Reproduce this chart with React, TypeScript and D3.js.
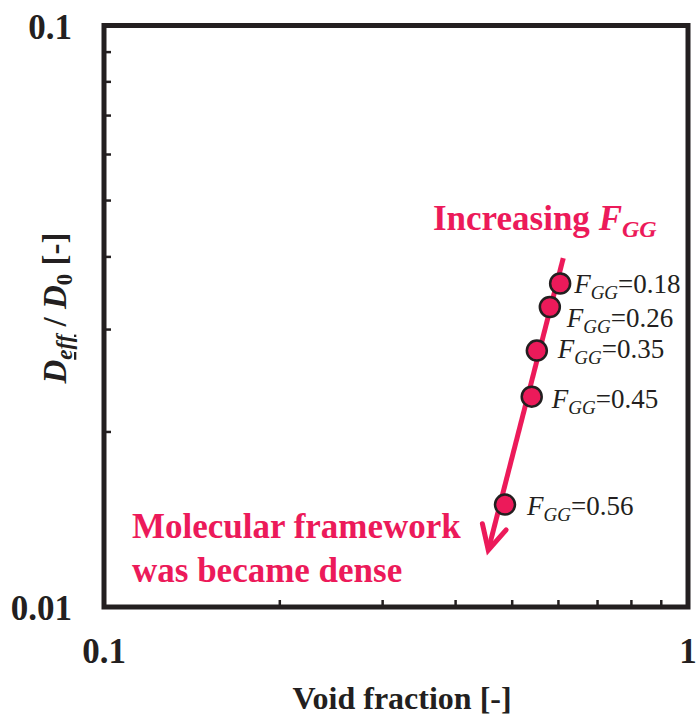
import React from "react";
import * as d3 from "d3";

// ---- data ----
const fggLabels = ["0.18", "0.26", "0.35", "0.45", "0.56"];
const voidFraction = [0.604, 0.58, 0.551, 0.54, 0.486];
const diffRatio = [0.036, 0.0328, 0.0276, 0.023, 0.015];
const trendX = [0.6115, 0.455];
const trendY = [0.0398, 0.01253];
const xTickLabels = ["0.1", "1"];
const yTickLabels = ["0.1", "0.01"];

// ---- layout ----
const W = 696;
const H = 718;
const left = 104;
const right = 688;
const top = 25.5;
const bottom = 607;
const labelDx = [14, 17, 21, 20, 22];
const labelDy = [9, 20, 7, 11, 10];

const PINK = "#EC1A5A";
const INK = "#231f20";
const SERIF = "'Liberation Serif', 'Times New Roman', serif";

export default function App() {
  const x = d3.scaleLog().domain([0.1, 1]).range([left, right]);
  const y = d3.scaleLog().domain([0.01, 0.1]).range([bottom, top]);

  const xMinor = d3.range(2, 10).map((d) => d / 10);
  const yMinor = d3.range(2, 10).map((d) => d / 100);

  const line = d3
    .line<number>()
    .x((_, i) => x(trendX[i]))
    .y((_, i) => y(trendY[i]));

  // arrowhead at end of trend line
  const tipX = x(trendX[1]);
  const tipY = y(trendY[1]);
  const backAng = Math.atan2(y(trendY[0]) - tipY, x(trendX[0]) - tipX);
  const armLen = 27;
  const armAng = (27 * Math.PI) / 180;
  const arm1 = [tipX + armLen * Math.cos(backAng - armAng), tipY + armLen * Math.sin(backAng - armAng)];
  const arm2 = [tipX + armLen * Math.cos(backAng + armAng), tipY + armLen * Math.sin(backAng + armAng)];

  return (
    <svg
      width={W}
      height={H}
      style={{ position: "absolute", left: 0, top: 0, background: "#fff" }}
      fontFamily={SERIF}
    >
      <rect x={0} y={0} width={W} height={H} fill="#fff" />

      {/* minor ticks */}
      {xMinor.map((v) => (
        <line key={"xt" + v} x1={x(v)} x2={x(v)} y1={bottom} y2={bottom - 7} stroke={INK} strokeWidth={2.5} />
      ))}
      {yMinor.map((v) => (
        <line key={"yt" + v} x1={left} x2={left + 7} y1={y(v)} y2={y(v)} stroke={INK} strokeWidth={2.5} />
      ))}

      {/* frame */}
      <rect x={left} y={top} width={right - left} height={bottom - top} fill="none" stroke={INK} strokeWidth={5} />

      {/* tick labels */}
      {yTickLabels.map((t) => (
        <text key={"yl" + t} x={72} y={y(+t) + 13} textAnchor="end" fontWeight="bold" fontSize={35} fill={INK}>
          {t}
        </text>
      ))}
      {xTickLabels.map((t) => (
        <text key={"xl" + t} x={Math.min(x(+t), 688)} y={663} textAnchor="middle" fontWeight="bold" fontSize={35} fill={INK}>
          {t}
        </text>
      ))}

      {/* axis titles */}
      <text x={402} y={709} textAnchor="middle" fontWeight="bold" fontSize={32} fill={INK}>
        Void fraction [-]
      </text>
      <text
        transform="translate(66,308) rotate(-90)"
        textAnchor="middle"
        fontWeight="bold"
        fontSize={33}
        fill={INK}
      >
        <tspan fontStyle="italic">D</tspan>
        <tspan fontStyle="italic" fontSize={23} dy={6} textDecoration="underline">eff</tspan>
        <tspan dy={-6}> / </tspan>
        <tspan fontStyle="italic">D</tspan>
        <tspan fontSize={23} dy={6}>0</tspan>
        <tspan dy={-6}> [-]</tspan>
      </text>

      {/* trend line with arrow */}
      <path d={line(trendX) || ""} fill="none" stroke={PINK} strokeWidth={5} />
      <polyline
        points={`${arm1[0]},${arm1[1]} ${tipX},${tipY} ${arm2[0]},${arm2[1]}`}
        fill="none"
        stroke={PINK}
        strokeWidth={5}
        strokeLinecap="round"
        strokeLinejoin="miter"
      />

      {/* points */}
      {voidFraction.map((v, i) => (
        <circle key={"p" + i} cx={x(v)} cy={y(diffRatio[i])} r={10} fill={PINK} stroke={INK} strokeWidth={2.5} />
      ))}

      {/* point labels */}
      {fggLabels.map((t, i) => (
        <text
          key={"lab" + i}
          x={x(voidFraction[i]) + labelDx[i]}
          y={y(diffRatio[i]) + labelDy[i]}
          fontSize={27}
          fill={INK}
        >
          <tspan fontStyle="italic">F</tspan>
          <tspan fontStyle="italic" fontSize={19} dy={6}>GG</tspan>
          <tspan dy={-6}>={t}</tspan>
        </text>
      ))}

      {/* annotations */}
      <text x={433} y={230} fontWeight="bold" fontSize={35} fill={PINK}>
        Increasing <tspan fontStyle="italic">F</tspan>
        <tspan fontStyle="italic" fontSize={24} dy={7}>GG</tspan>
      </text>
      <text x={132} y={538} fontWeight="bold" fontSize={35} fill={PINK}>
        Molecular framework
      </text>
      <text x={132} y={582} fontWeight="bold" fontSize={35} fill={PINK}>
        was became dense
      </text>
    </svg>
  );
}
